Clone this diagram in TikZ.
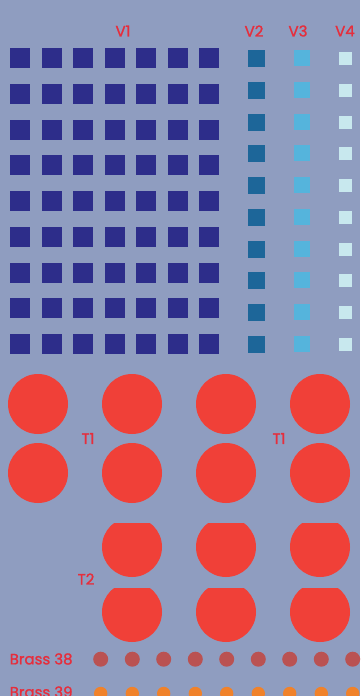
\documentclass[tikz,border=0pt]{standalone}
\usepackage{fontspec}
\setmainfont{Poppins}[FakeBold=1.4]
\definecolor{bg}{HTML}{8F9DC0}
\definecolor{navy}{HTML}{2D2D8A}
\definecolor{vtwo}{HTML}{1D6699}
\definecolor{vthree}{HTML}{55B4DC}
\definecolor{vfour}{HTML}{C8E8EE}
\definecolor{circred}{HTML}{F04038}
\definecolor{txtred}{HTML}{E62E3C}
\definecolor{brown}{HTML}{BA5252}
\definecolor{orng}{HTML}{F0822A}
\begin{document}
\begin{tikzpicture}[x=1pt,y=-1pt,
  lbl/.style={text=txtred,font=\fontsize{15}{15}\selectfont,inner sep=0pt},
  sqa/.style={fill=navy,minimum size=20pt,inner sep=0pt,draw=none},
  sqb/.style={fill=vtwo,minimum size=17pt,inner sep=0pt,draw=none},
  sqc/.style={fill=vthree,minimum size=16pt,inner sep=0pt,draw=none},
  sqd/.style={fill=vfour,minimum size=13pt,inner sep=0pt,draw=none},
  bigdot/.style={circle,fill=circred,minimum size=60pt,inner sep=0pt,draw=none},
  brdot/.style={circle,fill=brown,minimum size=15pt,inner sep=0pt,draw=none},
  ordot/.style={circle,fill=orng,minimum size=13.4pt,inner sep=0pt,draw=none}]
\fill[bg] (0,0) rectangle (360,696);
\useasboundingbox (0,0) rectangle (360,696);
% labels
\node[lbl] (lv1) at (123,31) {V1};
\node[lbl] (lv2) at (254,31) {V2};
\node[lbl] (lv3) at (298,31) {V3};
\node[lbl] (lv4) at (345,31) {V4};
% V1 squares
\foreach \x [count=\c] in {20,52,83,115,146,178,209}{
  \foreach \r in {0,...,8}{
    \node[sqa] (a-\c-\r) at (\x,58+35.75*\r) {};
  }
}
% V2-V4
\foreach \r in {0,...,9}{
  \node[sqb] (b-\r) at (256.5,58.5+31.78*\r) {};
  \node[sqc] (c-\r) at (302,58+31.78*\r) {};
  \node[sqd] (d-\r) at (345.5,58.5+31.78*\r) {};
}
% T1 circles
\foreach \x [count=\c] in {38,132,226,320}{
  \node[bigdot] (t1a-\c) at (\x,404) {};
  \node[bigdot] (t1b-\c) at (\x,473) {};
}
\node[lbl] (lt1a) at (88,438.5) {T1};
\node[lbl] (lt1b) at (279,438.5) {T1};
% T2 circles (clipped)
\begin{scope}
  \clip (0,523) rectangle (360,580);
  \foreach \x [count=\c] in {132,226,320}{
    \node[bigdot] (t2a-\c) at (\x,547) {};
  }
\end{scope}
\begin{scope}
  \clip (0,588) rectangle (360,650);
  \foreach \x [count=\c] in {132,226,320}{
    \node[bigdot] (t2b-\c) at (\x,612) {};
  }
\end{scope}
\node[lbl] (lt2) at (86,579) {T2};
% Brass rows
\node[lbl,anchor=west] (lb38) at (9.5,659) {Brass 38};
\node[lbl,anchor=west] (lb39) at (9.5,692) {Brass 39};
\foreach \x [count=\c] in {100.7,132.3,163.7,195.3,226.7,258.3,289.7,321.3,352.7}{
  \node[brdot] (br-\c) at (\x,659.2) {};
  \node[ordot] (or-\c) at (\x,693.5) {};
}
\end{tikzpicture}
\end{document}
